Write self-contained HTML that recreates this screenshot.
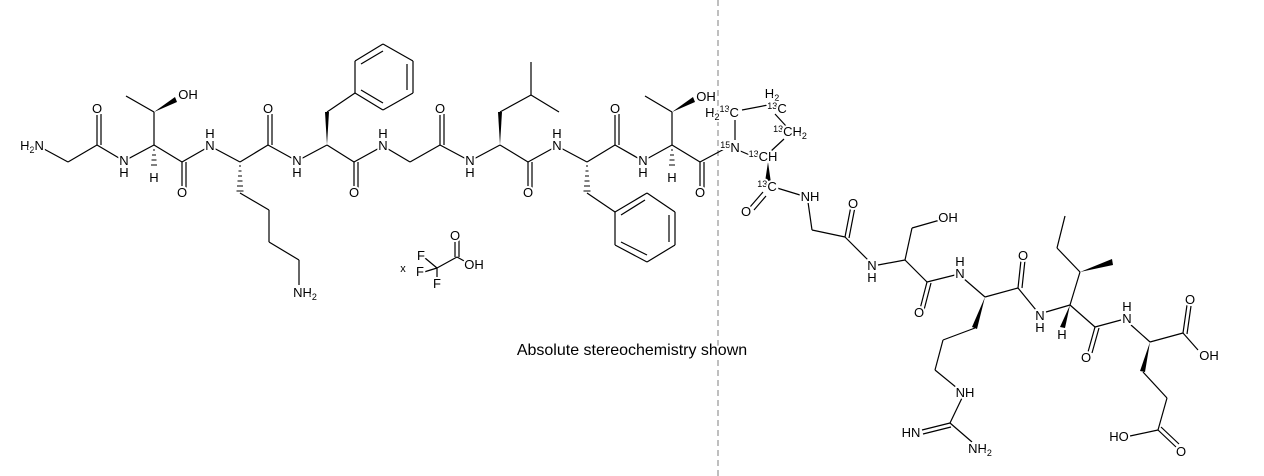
<!DOCTYPE html>
<html><head><meta charset="utf-8"><style>
html,body{margin:0;padding:0;background:#fff;}
svg{display:block;}
text{font-family:"Liberation Sans",Arial,sans-serif;font-size:13px;fill:#000;text-anchor:middle;paint-order:stroke;stroke:#fff;stroke-width:4px;stroke-linejoin:round;}
text.s{font-size:9px;}
.b line{stroke:#000;stroke-width:1.2;}
</style></head><body>
<svg width="1264" height="476" viewBox="0 0 1264 476" xmlns="http://www.w3.org/2000/svg">
<line x1="718" y1="0" x2="718" y2="476" stroke="#aaa" stroke-width="1.5" stroke-dasharray="6,4"/>
<g class="b">
<line x1="44" y1="149" x2="68" y2="162"/><line x1="68" y1="162" x2="97" y2="145"/>
<line x1="97" y1="145" x2="97" y2="114"/><line x1="101" y1="145" x2="101" y2="114"/>
<line x1="97" y1="145" x2="124" y2="161"/>
<line x1="124" y1="161" x2="154" y2="145"/><line x1="154" y1="145" x2="154" y2="112"/>
<line x1="154" y1="112" x2="126" y2="96"/>
<line x1="154" y1="145" x2="182" y2="162"/>
<line x1="182" y1="162" x2="182" y2="190"/><line x1="186" y1="162" x2="186" y2="190"/>
<line x1="182" y1="162" x2="210" y2="146"/>
<line x1="210" y1="146" x2="240" y2="162"/><line x1="240" y1="162" x2="268" y2="145"/>
<line x1="268" y1="145" x2="268" y2="114"/><line x1="272" y1="145" x2="272" y2="114"/>
<line x1="240" y1="193" x2="269" y2="210"/><line x1="269" y1="210" x2="269" y2="242"/>
<line x1="269" y1="242" x2="299" y2="260"/><line x1="299" y1="260" x2="299" y2="285"/>
<line x1="268" y1="145" x2="297" y2="161"/>
<line x1="297" y1="161" x2="327" y2="145"/><line x1="327" y1="112" x2="355" y2="93"/>
<line x1="355" y1="93" x2="355" y2="61"/><line x1="355" y1="61" x2="383" y2="44"/>
<line x1="383" y1="44" x2="413" y2="61"/><line x1="413" y1="61" x2="413" y2="93"/>
<line x1="413" y1="93" x2="383" y2="110"/><line x1="383" y1="110" x2="355" y2="93"/>
<line x1="361" y1="64" x2="383" y2="51"/><line x1="407" y1="64" x2="407" y2="90"/><line x1="383" y1="103" x2="361" y2="90"/>
<line x1="327" y1="145" x2="354" y2="162"/>
<line x1="354" y1="162" x2="354" y2="190"/><line x1="358" y1="162" x2="358" y2="190"/>
<line x1="354" y1="162" x2="383" y2="146"/>
<line x1="383" y1="146" x2="410" y2="162"/><line x1="410" y1="162" x2="440" y2="145"/>
<line x1="440" y1="145" x2="440" y2="114"/><line x1="444" y1="145" x2="444" y2="114"/>
<line x1="440" y1="145" x2="470" y2="161"/>
<line x1="470" y1="161" x2="500" y2="145"/><line x1="500" y1="112" x2="531" y2="95"/>
<line x1="531" y1="95" x2="531" y2="62"/><line x1="531" y1="95" x2="559" y2="112"/>
<line x1="500" y1="145" x2="528" y2="162"/>
<line x1="528" y1="162" x2="528" y2="190"/><line x1="532" y1="162" x2="532" y2="190"/>
<line x1="528" y1="162" x2="557" y2="146"/>
<line x1="557" y1="146" x2="587" y2="162"/><line x1="587" y1="162" x2="615" y2="145"/>
<line x1="615" y1="145" x2="615" y2="114"/><line x1="619" y1="145" x2="619" y2="114"/>
<line x1="587" y1="193" x2="615" y2="212"/>
<line x1="615" y1="212" x2="647" y2="193"/><line x1="647" y1="193" x2="675" y2="212"/>
<line x1="675" y1="212" x2="675" y2="245"/><line x1="675" y1="245" x2="647" y2="262"/>
<line x1="647" y1="262" x2="615" y2="245"/><line x1="615" y1="245" x2="615" y2="212"/>
<line x1="621" y1="215" x2="645" y2="200"/><line x1="669" y1="215" x2="669" y2="242"/><line x1="647" y1="255" x2="621" y2="242"/>
<line x1="615" y1="145" x2="643" y2="161"/>
<line x1="643" y1="161" x2="672" y2="145"/><line x1="672" y1="145" x2="672" y2="112"/>
<line x1="672" y1="112" x2="645" y2="96"/>
<line x1="672" y1="145" x2="700" y2="162"/>
<line x1="700" y1="162" x2="700" y2="190"/><line x1="704" y1="162" x2="704" y2="190"/>
<line x1="700" y1="162" x2="728" y2="147"/>
<line x1="735" y1="140" x2="735" y2="120"/><line x1="742" y1="110" x2="768" y2="105"/>
<line x1="775" y1="114" x2="786" y2="126"/><line x1="784" y1="139" x2="770" y2="152"/>
<line x1="752" y1="156" x2="738" y2="150"/>
<line x1="763" y1="192" x2="750" y2="207"/><line x1="766" y1="196" x2="754" y2="210"/>
<line x1="777" y1="188" x2="800" y2="195"/>
<line x1="808" y1="202" x2="812" y2="230"/><line x1="812" y1="230" x2="845" y2="237"/>
<line x1="845" y1="237" x2="851" y2="206"/><line x1="849" y1="238" x2="855" y2="207"/>
<line x1="845" y1="237" x2="870" y2="262"/>
<line x1="878" y1="265" x2="905" y2="260"/><line x1="905" y1="260" x2="912" y2="228"/>
<line x1="912" y1="228" x2="940" y2="220"/>
<line x1="905" y1="260" x2="927" y2="282"/>
<line x1="927" y1="282" x2="920" y2="309"/><line x1="931" y1="283" x2="924" y2="310"/>
<line x1="927" y1="282" x2="955" y2="275"/>
<line x1="963" y1="278" x2="985" y2="297"/>
<line x1="975" y1="328" x2="943" y2="340"/><line x1="943" y1="340" x2="935" y2="370"/>
<line x1="935" y1="370" x2="957" y2="388"/><line x1="962" y1="398" x2="950" y2="423"/>
<line x1="950" y1="423" x2="922" y2="430"/><line x1="951" y1="427" x2="923" y2="434"/>
<line x1="950" y1="423" x2="972" y2="442"/>
<line x1="985" y1="297" x2="1018" y2="288"/>
<line x1="1018" y1="288" x2="1021" y2="260"/><line x1="1022" y1="288" x2="1025" y2="260"/>
<line x1="1018" y1="288" x2="1036" y2="310"/>
<line x1="1046" y1="312" x2="1070" y2="305"/><line x1="1070" y1="305" x2="1080" y2="272"/>
<line x1="1080" y1="272" x2="1057" y2="248"/><line x1="1057" y1="248" x2="1065" y2="216"/>
<line x1="1070" y1="305" x2="1095" y2="327"/>
<line x1="1095" y1="327" x2="1088" y2="352"/><line x1="1099" y1="328" x2="1092" y2="353"/>
<line x1="1095" y1="327" x2="1121" y2="320"/>
<line x1="1131" y1="325" x2="1150" y2="342"/><line x1="1150" y1="342" x2="1183" y2="333"/>
<line x1="1183" y1="333" x2="1187" y2="305"/><line x1="1187" y1="334" x2="1191" y2="306"/>
<line x1="1183" y1="333" x2="1198" y2="350"/>
<line x1="1143" y1="372" x2="1167" y2="398"/><line x1="1167" y1="398" x2="1158" y2="430"/>
<line x1="1158" y1="430" x2="1130" y2="436"/>
<line x1="1158" y1="430" x2="1176" y2="447"/><line x1="1161" y1="427" x2="1179" y2="444"/>
<line x1="425" y1="258" x2="437" y2="268"/><line x1="424" y1="272" x2="437" y2="268"/>
<line x1="437" y1="268" x2="437" y2="278"/><line x1="437" y1="268" x2="457" y2="257"/>
<line x1="455" y1="257" x2="455" y2="240"/><line x1="459" y1="257" x2="459" y2="240"/>
<line x1="457" y1="257" x2="466" y2="262"/>
</g>
<g fill="#000">
<polygon points="154,112 175,97 177,102"/>
<polygon points="327,145 325,112 329,112"/>
<polygon points="500,145 498,112 502,112"/>
<polygon points="672,112 693,97 695,102"/>
<polygon points="768,162 765,182 771,183"/>
<polygon points="985,297 972,327 977,329"/>
<polygon points="1080,272 1112,259 1113,265"/>
<polygon points="1070,305 1060,327 1065,328"/>
<polygon points="1150,342 1140,371 1145,372"/>
</g>
<g stroke="#000" stroke-width="1">
<line x1="153" y1="150" x2="155" y2="150"/><line x1="152" y1="155" x2="156" y2="155"/><line x1="151.5" y1="160" x2="156.5" y2="160"/><line x1="151" y1="165" x2="157" y2="165"/>
<line x1="239" y1="166" x2="241" y2="166"/><line x1="238.5" y1="171" x2="241.5" y2="171"/><line x1="238" y1="176" x2="242" y2="176"/><line x1="237.5" y1="181" x2="242.5" y2="181"/><line x1="237" y1="186" x2="243" y2="186"/><line x1="236.5" y1="191" x2="243.5" y2="191"/>
<line x1="586" y1="166" x2="588" y2="166"/><line x1="585.5" y1="171" x2="588.5" y2="171"/><line x1="585" y1="176" x2="589" y2="176"/><line x1="584.5" y1="181" x2="589.5" y2="181"/><line x1="584" y1="186" x2="590" y2="186"/><line x1="583.5" y1="191" x2="590.5" y2="191"/>
<line x1="671" y1="150" x2="673" y2="150"/><line x1="670" y1="155" x2="674" y2="155"/><line x1="669.5" y1="160" x2="674.5" y2="160"/><line x1="669" y1="165" x2="675" y2="165"/>
</g>
<text x="32" y="150">H<tspan font-size="9" dy="3">2</tspan><tspan dy="-3">N</tspan></text>
<text x="97" y="113">O</text>
<text x="124" y="165">N</text><text x="124" y="177">H</text>
<text x="188" y="99">OH</text>
<text x="154" y="182">H</text>
<text x="182" y="197">O</text>
<text x="210" y="150">N</text><text x="210" y="138">H</text>
<text x="268" y="113">O</text>
<text x="305" y="297">NH<tspan font-size="9" dy="3">2</tspan></text>
<text x="297" y="165">N</text><text x="297" y="177">H</text>
<text x="354" y="197">O</text>
<text x="383" y="150">N</text><text x="383" y="138">H</text>
<text x="440" y="113">O</text>
<text x="470" y="165">N</text><text x="470" y="177">H</text>
<text x="528" y="197">O</text>
<text x="557" y="150">N</text><text x="557" y="138">H</text>
<text x="615" y="113">O</text>
<text x="643" y="165">N</text><text x="643" y="177">H</text>
<text x="706" y="101">OH</text>
<text x="672" y="182">H</text>
<text x="700" y="197">O</text>
<text x="722" y="117">H<tspan font-size="9" dy="3">2</tspan><tspan font-size="9" dy="-8">13</tspan><tspan dy="5">C</tspan></text>
<text x="772" y="98">H<tspan font-size="9" dy="3">2</tspan></text>
<text x="777" y="113"><tspan font-size="9" dy="-4">13</tspan><tspan dy="4">C</tspan></text>
<text x="790" y="136"><tspan font-size="9" dy="-4">13</tspan><tspan dy="4">CH</tspan><tspan font-size="9" dy="3">2</tspan></text>
<text x="730" y="152"><tspan font-size="9" dy="-4">15</tspan><tspan dy="4">N</tspan></text>
<text x="763" y="161"><tspan font-size="9" dy="-4">13</tspan><tspan dy="4">CH</tspan></text>
<text x="767" y="191"><tspan font-size="9" dy="-4">13</tspan><tspan dy="4">C</tspan></text>
<text x="746" y="216">O</text>
<text x="810" y="201">NH</text>
<text x="853" y="208">O</text>
<text x="872" y="270">N</text><text x="872" y="282">H</text>
<text x="948" y="222">OH</text>
<text x="919" y="317">O</text>
<text x="960" y="278">N</text><text x="960" y="266">H</text>
<text x="965" y="397">NH</text>
<text x="911" y="437">HN</text>
<text x="980" y="453">NH<tspan font-size="9" dy="3">2</tspan></text>
<text x="1023" y="260">O</text>
<text x="1040" y="320">N</text><text x="1040" y="332">H</text>
<text x="1062" y="339">H</text>
<text x="1086" y="362">O</text>
<text x="1127" y="323">N</text><text x="1127" y="311">H</text>
<text x="1190" y="304">O</text>
<text x="1209" y="360">OH</text>
<text x="1119" y="441">HO</text>
<text x="1181" y="456">O</text>
<text x="403" y="272" style="font-size:11px">x</text>
<text x="421" y="260">F</text><text x="420" y="276">F</text><text x="437" y="288">F</text>
<text x="455" y="240">O</text><text x="474" y="269">OH</text>
<text x="632" y="355" style="font-size:16px">Absolute stereochemistry shown</text>
</svg>
</body></html>
